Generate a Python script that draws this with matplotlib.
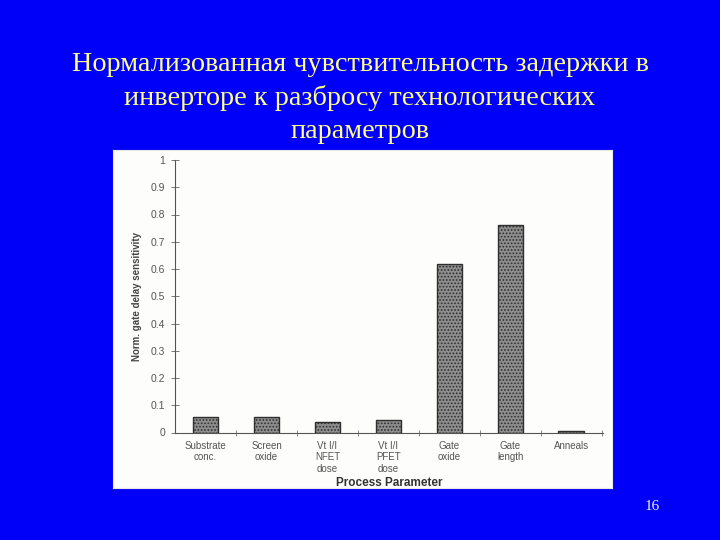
import numpy as np
import matplotlib
matplotlib.use('Agg')
import matplotlib.pyplot as plt

# data
categories = ['Substrate\nconc.', 'Screen\noxide', 'Vt I/I\nNFET\ndose', 'Vt I/I\nPFET\ndose',
              'Gate\noxide', 'Gate\nlength', 'Anneals']
sensitivity = [0.058, 0.056, 0.040, 0.046, 0.620, 0.760, 0.007]
y_ticks = [0, 0.1, 0.2, 0.3, 0.4, 0.5, 0.6, 0.7, 0.8, 0.9, 1.0]
y_labels = ['0', '0.1', '0.2', '0.3', '0.4', '0.5', '0.6', '0.7', '0.8', '0.9', '1']

title = ('Нормализованная чувствительность задержки в\n'
         'инверторе к разбросу технологических\n'
         'параметров')

fig = plt.figure(figsize=(7.2, 5.4), dpi=100)
fig.patch.set_facecolor('#0000f8')

# title on the slide
fig.text(0.5, 1 - 98 / 540, title, ha='center', va='center', color='#ffff88',
         family='Liberation Serif', fontsize=20.3, linespacing=1.41)
fig.text(652 / 720, 1 - 506 / 540, '16', ha='center', va='center', color='#f0f0ff',
         family='Liberation Serif', fontsize=11)

# white scanned figure panel
panel = fig.add_axes([113 / 720, 1 - 488 / 540, 499 / 720, 338 / 540])
panel.set_facecolor('#fdfdfb')
panel.set_xticks([])
panel.set_yticks([])
for s in panel.spines.values():
    s.set_color('#e8e8e0')

ax = fig.add_axes([175 / 720, 1 - 432.5 / 540, 428 / 720, 272.5 / 540])
ax.set_facecolor('none')

x = np.arange(len(categories))
plt.rcParams['hatch.linewidth'] = 0.8
ax.bar(x, sensitivity, width=0.42, color='#8e8e8e', edgecolor='#2e2e2e',
       hatch='.....', linewidth=1.0, zorder=3)

ax.set_xlim(-0.5, 6.52)
ax.set_ylim(0, 1.0)
ax.set_yticks(y_ticks)
ax.set_yticklabels(y_labels)
ax.set_xticks(x)
ax.set_xticklabels(categories, linespacing=1.2)
ax.set_xticks(np.arange(0.5, 7, 1.0), minor=True)

for s in ['top', 'right']:
    ax.spines[s].set_visible(False)
for s in ['left', 'bottom']:
    ax.spines[s].set_color('#555555')
    ax.spines[s].set_linewidth(0.8)

ax.tick_params(axis='y', direction='inout', length=6, width=0.7, color='#777777',
               labelsize=7.5, labelcolor='#555555', pad=4)
ax.tick_params(axis='x', which='major', length=0, labelsize=7, labelcolor='#555555', pad=6)
ax.tick_params(axis='x', which='minor', direction='inout', length=5, width=0.7, color='#888888')
for lbl in ax.get_xticklabels() + ax.get_yticklabels():
    lbl.set_family('Liberation Sans')

ax.set_xlabel('Process Parameter', family='Liberation Sans', fontsize=8.5, fontweight='bold',
              color='#333333', labelpad=2)
ax.set_ylabel('Norm. gate delay sensitivity', family='Liberation Sans', fontsize=7,
              fontweight='bold', color='#444444', labelpad=6)

fig.savefig('out.png', dpi=100, facecolor=fig.get_facecolor())
